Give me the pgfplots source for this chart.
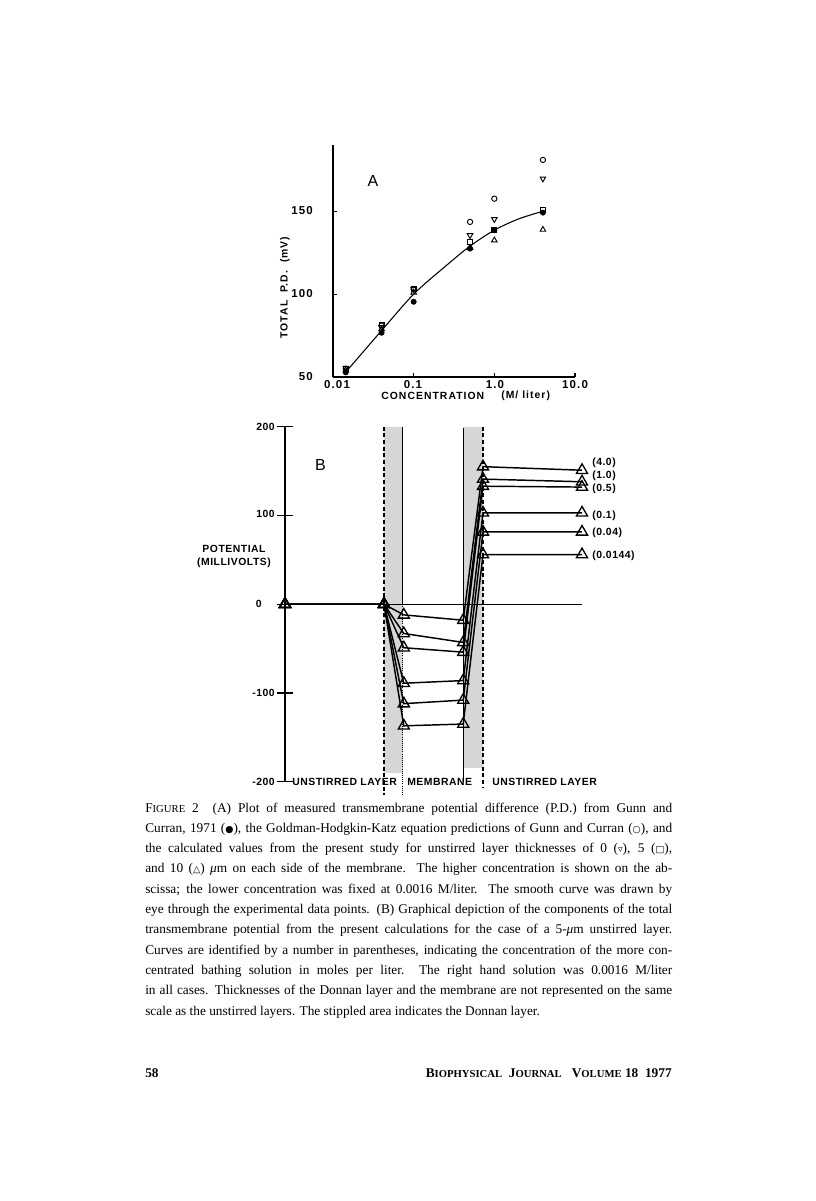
\documentclass[border=0pt]{standalone}
\usepackage{fontspec}
\setmainfont{Liberation Serif}
\setsansfont{Liberation Sans}
\newfontfamily\sym{DejaVu Sans}
\newfontfamily\lblA[LetterSpace=10]{Liberation Sans}
\newfontfamily\lblB[LetterSpace=5]{Liberation Sans}
\usepackage{pgfplots}
\pgfplotsset{compat=1.18}
\newcommand{\Line}[1]{\makebox[395.25pt][s]{#1}}
\newcommand{\Sym}[1]{{\sym\scriptsize #1}}
\begin{document}
\begin{tikzpicture}
\path[use as bounding box] (0,0) rectangle (612pt,-900.75pt);
\fill[white] (0,0) rectangle (612pt,-900.75pt);

% ---------------- Plot A ----------------
\begin{axis}[at={(249.75pt,-282.75pt)}, anchor=south west, scale only axis,
  width=181.5pt, height=174pt, xmode=log, xmin=0.01, xmax=10, ymin=50, ymax=190,
  axis x line=bottom, axis y line=left, axis line style={-, line width=0.9pt},
  xtick={0.01,0.1,1,10}, ytick={50,100,150}, xticklabels={,,,}, yticklabels={,,},
  xminorticks=false, yminorticks=false, tick align=inside, major tick length=3pt,
  tick style={black, line width=0.8pt}, clip=false]
\addplot[black, only marks, mark=*, mark size=2pt] coordinates {(0.0144,52.8)(0.04,76.7)(0.1,95.4)(0.5,127.5)(1,138.6)(4,149.2)};
\addplot[black, only marks, mark=o, mark size=2pt, mark options={line width=0.7pt}] coordinates {(0.0144,55)(0.04,81)(0.1,103)(0.5,143.6)(1,157.6)(4,181)};
\addplot[black, only marks, mark=triangle, mark size=2.4pt, mark options={rotate=180, line width=0.7pt}] coordinates {(0.0144,55.5)(0.04,80)(0.1,103)(0.5,135.5)(1,145.2)(4,169.7)};
\addplot[black, only marks, mark=square, mark size=1.9pt, mark options={line width=0.7pt}] coordinates {(0.0144,55)(0.04,81.3)(0.1,103.4)(0.5,131.5)(1,138.6)(4,150.6)};
\addplot[black, only marks, mark=triangle, mark size=2.4pt, mark options={line width=0.7pt}] coordinates {(0.0144,54)(0.04,79)(0.1,101)(0.5,128)(1,132.5)(4,138.9)};
\addplot[black, smooth, line width=0.8pt] coordinates {(0.0144,53)(0.04,78)(0.1,100)(0.25,117)(0.5,129)(1,138.6)(2,145.4)(4,150)};
\end{axis}

% ---------------- Plot B ----------------
\begin{axis}[at={(213.75pt,-586.3pt)}, anchor=south west, scale only axis,
  width=222.75pt, height=266.25pt, xmin=0, xmax=3, ymin=-200, ymax=200,
  axis y line=left, axis x line=middle, axis line style={-, line width=0.9pt},
  xtick=\empty, ytick={-200,-100,0,100,200}, yticklabels={,,,,},
  tick align=center, major tick length=12pt, tick style={black, line width=0.9pt}, clip=false,
  tri/.style={black, solid, line width=1.1pt, mark=triangle, mark size=4.8pt, mark options={solid, line width=1pt, fill=none}}]
\fill[gray!32] (axis cs:1,200) rectangle (axis cs:1.19,-190);
\fill[gray!32] (axis cs:1.8,200) rectangle (axis cs:2.0,-185);
\draw[line width=1pt, dash pattern=on 3pt off 2pt] (axis cs:1,200) -- (axis cs:1,-215);
\draw[line width=0.9pt] (axis cs:1.19,200) -- (axis cs:1.19,0);
\draw[line width=0.6pt, densely dotted] (axis cs:1.19,0) -- (axis cs:1.19,-216);
\draw[line width=0.8pt] (axis cs:1.8,199) -- (axis cs:1.8,-200);
\draw[line width=1pt, dash pattern=on 3pt off 2pt] (axis cs:2.0,200) -- (axis cs:2.0,-206);
\draw[line width=0.9pt] (axis cs:0,0) -- (axis cs:3,0);
\addplot[tri] coordinates {(0,0)(1,0)(1.2,-12)(1.8,-18)(2,155)(3,151)};
\addplot[tri] coordinates {(0,0)(1,0)(1.2,-33)(1.8,-43)(2,141)(3,138)};
\addplot[tri] coordinates {(0,0)(1,0)(1.2,-49)(1.8,-54)(2,133)(3,132)};
\addplot[tri] coordinates {(0,0)(1,0)(1.2,-89)(1.8,-86)(2,103)(3,103)};
\addplot[tri] coordinates {(0,0)(1,0)(1.2,-112)(1.8,-108)(2,81.5)(3,81.5)};
\addplot[tri] coordinates {(0,0)(1,0)(1.2,-137)(1.8,-135)(2,56)(3,56)};
\end{axis}

\begin{scope}[x=0.75pt,y=-0.75pt]
% texts A
\tikzset{labA/.style={inner sep=0, font=\lblA\bfseries\fontsize{7.8}{8}\selectfont},
         numA/.style={inner sep=0, font=\lblA\bfseries\fontsize{8.6}{9}\selectfont}}
\node[numA, anchor=east] at (313,211) {150};
\node[numA, anchor=east] at (313,294) {100};
\node[numA, anchor=east] at (313,377) {50};
\node[numA] at (337,385) {0.01};
\node[numA] at (413,385) {0.1};
\node[numA] at (495,385) {1.0};
\node[numA] at (575,385) {10.0};
\node[labA, anchor=west] at (381,396) {CONCENTRATION};
\node[labA, anchor=west] at (501,396) {(M/ liter)};
\node[labA, rotate=90] at (285,287.5) {TOTAL\ \ P.D.\ \ (mV)};
\node[inner sep=0, font=\sffamily\fontsize{12}{14}\selectfont] at (373,181) {A};
% texts B
\tikzset{labB/.style={inner sep=0, font=\lblB\bfseries\fontsize{7.8}{9}\selectfont}}
\node[labB, anchor=east] at (275,427) {200};
\node[labB, anchor=east] at (275,514) {100};
\node[labB, anchor=east] at (262,604) {0};
\node[labB, anchor=east] at (275,693) {-100};
\node[labB, anchor=east] at (275,782) {-200};
\node[inner sep=0, font=\sffamily\fontsize{12}{14}\selectfont] at (320.5,465) {B};
\node[labB] at (234,549) {POTENTIAL};
\node[labB] at (234,563) {(MILLIVOLTS)};
\node[labB, anchor=west] at (292,782) {UNSTIRRED LAYER};
\node[labB, anchor=west] at (407,782) {MEMBRANE};
\node[labB, anchor=west] at (492,782) {UNSTIRRED LAYER};
\node[labB, anchor=west] at (592,463) {(4.0)};
\node[labB, anchor=west] at (592,475.5) {(1.0)};
\node[labB, anchor=west] at (592,489) {(0.5)};
\node[labB, anchor=west] at (592,516) {(0.1)};
\node[labB, anchor=west] at (592,533) {(0.04)};
\node[labB, anchor=west] at (592,556) {(0.0144)};
% caption
\tikzset{captxt/.style={inner sep=0, anchor=base west, font=\fontsize{10}{12}\selectfont}}
\node[captxt] at (145,812) {\Line{F{\footnotesize IGURE} 2\ \ (A) Plot of measured transmembrane potential difference (P.D.) from Gunn and}};
\node[captxt] at (145,832.3) {\Line{Curran, 1971 (\Sym{●}), the Goldman-Hodgkin-Katz equation predictions of Gunn and Curran (\Sym{○}), and}};
\node[captxt] at (145,852.6) {\Line{the calculated values from the present study for unstirred layer thicknesses of 0 (\Sym{▿}), 5 (\Sym{□}),}};
\node[captxt] at (145,872.9) {\Line{and 10 (\Sym{△}) \textit{μ}m on each side of the membrane.\ \ The higher concentration is shown on the ab-}};
\node[captxt] at (145,893.2) {\Line{scissa; the lower concentration was fixed at 0.0016 M/liter.\ \ The smooth curve was drawn by}};
\node[captxt] at (145,913.5) {\Line{eye through the experimental data points. (B) Graphical depiction of the components of the total}};
\node[captxt] at (145,933.8) {\Line{transmembrane potential from the present calculations for the case of a 5-\textit{μ}m unstirred layer.}};
\node[captxt] at (145,954.1) {\Line{Curves are identified by a number in parentheses, indicating the concentration of the more con-}};
\node[captxt] at (145,974.4) {\Line{centrated bathing solution in moles per liter.\ \ The right hand solution was 0.0016 M/liter}};
\node[captxt] at (145,994.7) {\Line{in all cases. Thicknesses of the Donnan layer and the membrane are not represented on the same}};
\node[captxt] at (145,1015) {scale as the unstirred layers. The stippled area indicates the Donnan layer.};
% footer
\node[inner sep=0, anchor=base west, font=\bfseries\fontsize{10}{12}\selectfont] at (145,1077) {58};
\node[inner sep=0, anchor=base east, font=\bfseries\fontsize{10}{12}\selectfont] at (672,1077) {B{\footnotesize IOPHYSICAL}\ \ J{\footnotesize OURNAL}\ \ \ V{\footnotesize OLUME}\ 18\ \ 1977};
\end{scope}
\end{tikzpicture}
\end{document}
